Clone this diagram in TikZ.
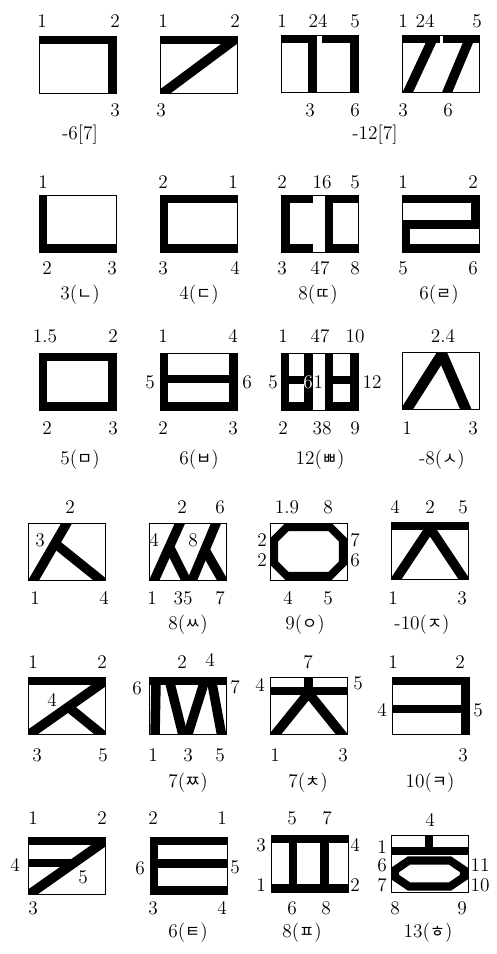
\documentclass[tikz,border=0pt]{standalone}
\usepackage{fontspec}
\usepackage{tikz}
\newfontfamily\kr[Scale=0.85]{Noto Sans CJK KR}
\tikzset{
  cell/.style={draw, line width=0.5pt},
  bar/.style={line width=4.6pt, line join=miter},
  slant/.style={line width=5.4pt, line join=miter},
  num/.style={inner sep=0pt, font=\fontsize{11}{13}\selectfont},
  capt/.style={inner sep=0pt, font=\fontsize{11}{13}\selectfont}
}
% one glyph cell: top-left corner, strokes (clipped to the cell)
\newcommand\jamobox[3]{%
  \begin{scope}[shift={(#1,#2)}]
    \begin{scope}
      \clip (0,0) rectangle (77,57);
      #3
    \end{scope}
    \draw[cell] (0,0) rectangle (77,57);
  \end{scope}}

\begin{document}
\begin{tikzpicture}[x=0.02cm, y=-0.02cm]
  \useasboundingbox (0,0) rectangle (497,954);

  % row 1
  \jamobox{39}{36}{\draw[bar] (-2,4) -- (73,4) -- (73,60);}
  \jamobox{160}{36}{\draw[bar] (-2,4) -- (79,4); \draw[slant] (81,-1) -- (-1,60);}
  \jamobox{281}{35}{\draw[bar] (-2,4) -- (31.5,4) -- (31.5,60); \draw[bar] (41,4) -- (73,4) -- (73,60);}
  \jamobox{402}{35}{\draw[bar] (-2,4) -- (38,4); \draw[bar] (41,4) -- (79,4);
    \draw[slant] (33.5,-2) -- (4.5,60); \draw[slant] (70,-2) -- (44,60);}
  \node[num] (a1) at (42,21) {1};   \node[num] (a2) at (115,21) {2};  \node[num] (a3) at (115,110) {3};
  \node[num] (b1) at (163,21) {1};  \node[num] (b2) at (235,21) {2};  \node[num] (b3) at (161,110) {3};
  \node[num] (c1) at (282,21) {1};  \node[num] (c24) at (318,21) {24}; \node[num] (c5) at (355,21) {5};
  \node[num] (c3) at (310,110) {3}; \node[num] (c6) at (355,110) {6};
  \node[num] (d1) at (403,21) {1};  \node[num] (d24) at (425,21) {24}; \node[num] (d5) at (477,21) {5};
  \node[num] (d3) at (403,110) {3}; \node[num] (d6) at (448,110) {6};
  \node[capt] (cap1) at (80,135) {-6[7]};
  \node[capt] (cap2) at (375,135) {-12[7]};

  % row 2
  \jamobox{39}{195}{\draw[bar] (4,-2) -- (4,53) -- (79,53);}
  \jamobox{160}{195}{\draw[bar] (79,4) -- (4,4) -- (4,53) -- (79,53);}
  \jamobox{281}{195}{\draw[bar] (32,4) -- (4.5,4) -- (4.5,53) -- (32,53); \draw[bar] (79,4) -- (48,4) -- (48,53) -- (79,53);}
  \jamobox{402}{195}{\draw[bar] (-2,4) -- (73,4) -- (73,29.5) -- (4,29.5) -- (4,53) -- (79,53);}
  \node[num] (e1) at (43,182) {1};  \node[num] (e2) at (47,268) {2};  \node[num] (e3) at (112,268) {3};
  \node[num] (f2) at (163,182) {2}; \node[num] (f1) at (233,182) {1};
  \node[num] (f3) at (163,268) {3}; \node[num] (f4) at (235,268) {4};
  \node[num] (g2) at (282,182) {2}; \node[num] (g16) at (322,182) {16}; \node[num] (g5) at (355,182) {5};
  \node[num] (g3) at (282,268) {3}; \node[num] (g47) at (320,268) {47}; \node[num] (g8) at (355,268) {8};
  \node[num] (h1) at (403,182) {1}; \node[num] (h2) at (473,182) {2};
  \node[num] (h5) at (403,268) {5}; \node[num] (h6) at (473,268) {6};
  \node[capt] (cap3) at (80,295) {3({\kr ㄴ})};
  \node[capt] (cap4) at (199,295) {4({\kr ㄷ})};
  \node[capt] (cap5) at (318,295) {8({\kr ㄸ})};
  \node[capt] (cap6) at (439,295) {6({\kr ㄹ})};

  % row 3
  \jamobox{39}{353}{\draw[bar] (4,4) rectangle (73,53);}
  \jamobox{160}{353}{\draw[bar] (4,-2) -- (4,53) -- (73,53) -- (73,-2); \draw[bar] (4,26) -- (73,26);}
  \jamobox{281}{353}{\draw[bar] (4,-2) -- (4,53) -- (27.5,53) -- (27.5,-2); \draw[bar] (4,27) -- (27.5,27);
    \draw[bar] (48,-2) -- (48,53) -- (73,53) -- (73,-2); \draw[bar] (48,27) -- (73,27);}
  \jamobox{402}{352}{\draw[slant, line width=6pt] (3,60) -- (40,2) -- (65,60);}
  \node[num] (i15) at (45,336) {1.5}; \node[num] (i2) at (113,336) {2};
  \node[num] (i2b) at (47,428) {2};   \node[num] (i3) at (113,428) {3};
  \node[num] (j1) at (163,336) {1}; \node[num] (j4) at (233,336) {4};
  \node[num] (j5) at (150,382) {5}; \node[num] (j6) at (247,382) {6};
  \node[num] (j2) at (163,428) {2}; \node[num] (j3) at (233,428) {3};
  \node[num] (k1) at (283,336) {1}; \node[num] (k47) at (320,336) {47}; \node[num] (k10) at (355,336) {10};
  \node[num] (k5) at (273,382) {5}; \node[num, text=white] (k6) at (308,382) {6};
  \node[num] (k11) at (323,382) {11}; \node[num] (k12) at (372,382) {12};
  \node[num] (k2) at (283,428) {2}; \node[num] (k38) at (322,428) {38}; \node[num] (k9) at (355,428) {9};
  \node[num] (l24) at (443,336) {2.4};
  \node[num] (l1) at (407,428) {1}; \node[num] (l3) at (473,428) {3};
  \node[capt] (cap7) at (80,460) {5({\kr ㅁ})};
  \node[capt] (cap8) at (199,460) {6({\kr ㅂ})};
  \node[capt] (cap9) at (320,460) {12({\kr ㅃ})};
  \node[capt] (cap10) at (442,460) {-8({\kr ㅅ})};

  % row 4
  \jamobox{28}{523}{\draw[slant] (40,-2) -- (4,60); \draw[slant] (29,22) -- (75,59);}
  \jamobox{149}{523}{\draw[slant] (32,-2) -- (4,60); \draw[slant] (20.5,24) -- (38.5,60);
    \draw[slant] (68,-2) -- (42,60); \draw[slant] (55.5,26) -- (75,60);}
  \jamobox{270}{523}{\draw[bar] (17,4) -- (60,4) -- (73,17) -- (73,40) -- (60,53) -- (17,53) -- (4,40) -- (4,17) -- cycle;}
  \jamobox{391}{522}{\draw[bar] (-2,4) -- (79,4); \draw[slant] (3,60) -- (39,6) -- (75,60);}
  \node[num] (m2) at (70,507) {2}; \node[num] (m3) at (40,540) {3};
  \node[num] (m1) at (35,598) {1}; \node[num] (m4) at (104,598) {4};
  \node[num] (n2) at (182,507) {2}; \node[num] (n6) at (220,507) {6};
  \node[num] (n4) at (154,540) {4}; \node[num] (n8) at (193,540) {8};
  \node[num] (n1) at (152,598) {1}; \node[num] (n35) at (183,598) {35}; \node[num] (n7) at (220,598) {7};
  \node[num] (o19) at (287,507) {1.9}; \node[num] (o8) at (328,507) {8};
  \node[num] (o2a) at (262,540) {2}; \node[num] (o2b) at (262,560) {2};
  \node[num] (o7) at (355,540) {7};  \node[num] (o6) at (355,560) {6};
  \node[num] (o4) at (288,598) {4};  \node[num] (o5) at (328,598) {5};
  \node[num] (p4) at (395,507) {4}; \node[num] (p2) at (430,507) {2}; \node[num] (p5) at (463,507) {5};
  \node[num] (p1) at (393,598) {1}; \node[num] (p3) at (462,598) {3};
  \node[capt] (cap11) at (188,625) {8({\kr ㅆ})};
  \node[capt] (cap12) at (305,625) {9({\kr ㅇ})};
  \node[capt] (cap13) at (422,625) {-10({\kr ㅈ})};

  % row 5
  \jamobox{28}{677}{\draw[bar] (-2,4) -- (79,4); \draw[slant] (80,2) -- (-1,59); \draw[slant] (39,29) -- (76,59);}
  \jamobox{149}{677}{\draw[bar] (-2,4) -- (79,4); \draw[slant] (7,6) -- (6,60); \draw[slant] (21,6) -- (34.5,60);
    \draw[slant] (55,6) -- (38,60); \draw[slant] (63,6) -- (73,60);}
  \jamobox{270}{677}{\draw[bar] (-2,14) -- (79,14); \draw[bar] (38.5,-2) -- (38.5,14); \draw[slant] (3,60) -- (38.5,16) -- (74,60);}
  \jamobox{392}{677}{\draw[bar] (-2,4) -- (73,4) -- (73,60); \draw[bar] (-2,32) -- (73,32);}
  \node[num] (q1) at (33,662) {1}; \node[num] (q2) at (102,662) {2}; \node[num] (q4) at (52,700) {4};
  \node[num] (q3) at (37,755) {3}; \node[num] (q5) at (103,755) {5};
  \node[num] (r2) at (182,662) {2}; \node[num] (r4) at (210,660) {4};
  \node[num] (r6) at (137,688) {6}; \node[num] (r7) at (235,687) {7};
  \node[num] (r1) at (153,755) {1}; \node[num] (r3) at (188,755) {3}; \node[num] (r5) at (220,755) {5};
  \node[num] (s7) at (308,662) {7}; \node[num] (s4) at (260,685) {4}; \node[num] (s5) at (358,683) {5};
  \node[num] (s1) at (275,755) {1}; \node[num] (s3) at (343,755) {3};
  \node[num] (t1) at (393,662) {1}; \node[num] (t2) at (460,662) {2};
  \node[num] (t4) at (382,710) {4}; \node[num] (t5) at (478,710) {5}; \node[num] (t3) at (463,755) {3};
  \node[capt] (cap14) at (188,783) {7({\kr ㅉ})};
  \node[capt] (cap15) at (308,783) {7({\kr ㅊ})};
  \node[capt] (cap16) at (430,783) {10({\kr ㅋ})};

  % row 6
  \jamobox{28}{837}{\draw[bar] (-2,4) -- (79,4); \draw[slant] (80,2) -- (-1,59); \draw[bar] (-2,26) -- (46,26);}
  \jamobox{150}{837}{\draw[bar] (79,4) -- (4,4) -- (4,53) -- (79,53); \draw[bar] (4,26.5) -- (79,26.5);}
  \jamobox{271}{835}{\draw[bar] (-2,4) -- (79,4); \draw[bar] (-2,53) -- (79,53);
    \draw[bar] (22,-2) -- (22,60); \draw[bar] (53.5,-2) -- (53.5,60);}
  \jamobox{391}{835}{\draw[bar] (38,-2) -- (38,16); \draw[bar] (-2,16) -- (79,16);
    \draw[bar] (18,25.5) -- (59,25.5) -- (73,35) -- (73,42) -- (59,51.5) -- (18,51.5) -- (4,42) -- (4,35) -- cycle;}
  \node[num] (u1) at (33,818) {1}; \node[num] (u2) at (102,818) {2};
  \node[num] (u4) at (15,865) {4}; \node[num] (u5) at (83,877) {5}; \node[num] (u3) at (33,908) {3};
  \node[num] (v2) at (153,818) {2}; \node[num] (v1) at (222,818) {1};
  \node[num] (v6) at (140,868) {6}; \node[num] (v5) at (235,867) {5};
  \node[num] (v3) at (153,908) {3}; \node[num] (v4) at (222,908) {4};
  \node[num] (w5) at (292,818) {5}; \node[num] (w7) at (327,818) {7};
  \node[num] (w3) at (261,845) {3}; \node[num] (w4) at (355,845) {4};
  \node[num] (w1) at (261,885) {1}; \node[num] (w2) at (355,885) {2};
  \node[num] (w6) at (292,908) {6}; \node[num] (w8) at (326,908) {8};
  \node[num] (x4) at (430,820) {4};
  \node[num] (x1) at (382,847) {1}; \node[num] (x6) at (382,865) {6}; \node[num] (x7) at (382,885) {7};
  \node[num] (x11) at (480,865) {11}; \node[num] (x10) at (480,885) {10};
  \node[num] (x8) at (395,908) {8}; \node[num] (x9) at (462,908) {9};
  \node[capt] (cap17) at (188,933) {6({\kr ㅌ})};
  \node[capt] (cap18) at (302,933) {8({\kr ㅍ})};
  \node[capt] (cap19) at (428,933) {13({\kr ㅎ})};
\end{tikzpicture}
\end{document}
